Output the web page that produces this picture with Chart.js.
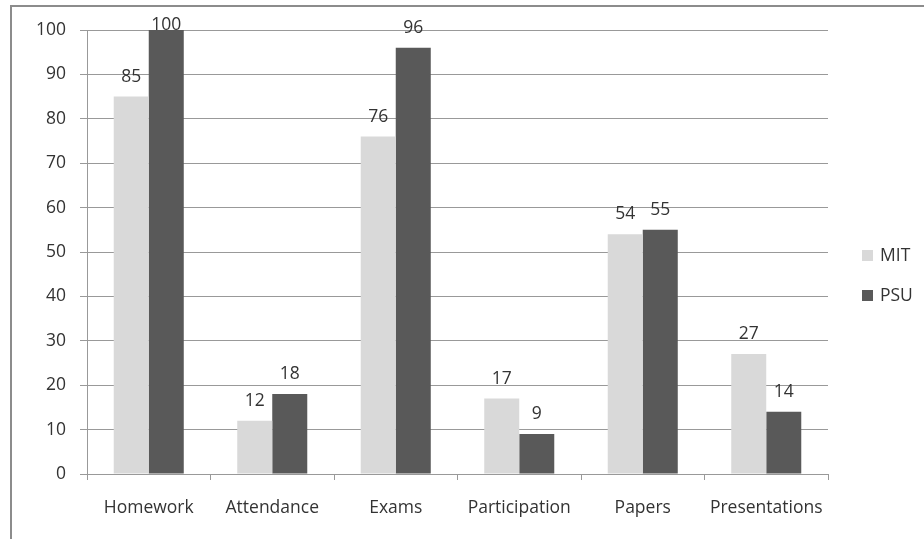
<!DOCTYPE html>
<html>
<head>
<meta charset="utf-8">
<script src="https://cdn.jsdelivr.net/npm/chart.js@4"></script>
<style>
  html, body { margin: 0; padding: 0; background: #fff; overflow: hidden; }
  #wrap { position: relative; width: 924px; height: 539px; }
  #frame { position: absolute; left: 10px; top: 5px; width: 2000px; height: 2000px;
           border-top: 2px solid #8c8c8c; border-left: 2px solid #8c8c8c; pointer-events: none; }
</style>
</head>
<body>
<div id="wrap">
  <canvas id="myChart" width="924" height="539"></canvas>
  <div id="frame"></div>
</div>
<script>
const categories = ['Homework', 'Attendance', 'Exams', 'Participation', 'Papers', 'Presentations'];
const mitValues = [85, 12, 76, 17, 54, 27];
const psuValues = [100, 18, 96, 9, 55, 14];
const seriesNames = ['MIT', 'PSU'];
const seriesColors = ['#d9d9d9', '#595959'];

const FONT = '"Open Sans", "Noto Sans", sans-serif';
const FSIZE = 17.5;

// value labels above bars (kept inside the plot top, like Excel)
const valueLabels = {
  id: 'valueLabels',
  afterDatasetsDraw(chart) {
    const ctx = chart.ctx;
    const top = chart.chartArea.top;
    ctx.save();
    ctx.font = FSIZE + 'px ' + FONT;
    ctx.fillStyle = '#333';
    ctx.textAlign = 'center';
    ctx.textBaseline = 'alphabetic';
    chart.data.datasets.forEach((ds, i) => {
      chart.getDatasetMeta(i).data.forEach((bar, j) => {
        const y = Math.max(bar.y - 15, top);
        ctx.fillText(ds.data[j], bar.x, y);
      });
    });
    ctx.restore();
  }
};

// legend on the right, drawn by hand
const sideLegend = {
  id: 'sideLegend',
  afterDraw(chart) {
    const ctx = chart.ctx;
    ctx.save();
    ctx.font = FSIZE + 'px ' + FONT;
    ctx.textBaseline = 'middle';
    chart.data.datasets.forEach((ds, i) => {
      const y = 255 + i * 40;
      ctx.fillStyle = ds.backgroundColor;
      ctx.fillRect(862, y - 5, 11, 11);
      ctx.fillStyle = '#333';
      ctx.fillText(ds.label, 880, y + 1);
    });
    ctx.restore();
  }
};

new Chart(document.getElementById('myChart'), {
  type: 'bar',
  data: {
    labels: categories,
    datasets: [
      { label: seriesNames[0], data: mitValues, backgroundColor: seriesColors[0] },
      { label: seriesNames[1], data: psuValues, backgroundColor: seriesColors[1] }
    ]
  },
  options: {
    responsive: false,
    animation: false,
    layout: { padding: { left: 0, right: 96, top: 30, bottom: 0 } },
    datasets: { bar: { categoryPercentage: 0.567, barPercentage: 1 } },
    plugins: { legend: { display: false }, tooltip: { enabled: false } },
    scales: {
      y: {
        min: 0, max: 100,
        ticks: { stepSize: 10, color: '#333', font: { family: FONT, size: FSIZE }, padding: 14 },
        grid: { color: '#999', tickLength: 7 },
        border: { color: '#999' },
        afterFit: s => { s.width = 87; }
      },
      x: {
        ticks: { color: '#333', font: { family: FONT, size: FSIZE }, padding: 18 },
        grid: { drawOnChartArea: false, color: '#999', tickLength: 6 },
        border: { color: '#999' },
        afterFit: s => { s.height = 65; }
      }
    }
  },
  plugins: [valueLabels, sideLegend]
});
</script>
</body>
</html>
